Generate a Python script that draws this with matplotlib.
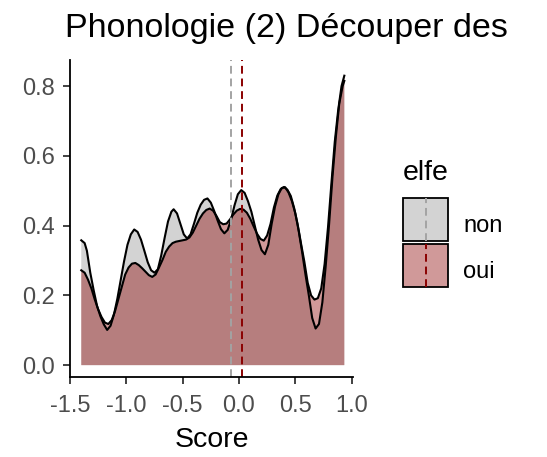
import matplotlib
matplotlib.use("Agg")
import matplotlib.pyplot as plt
from matplotlib.patches import Rectangle
from matplotlib.lines import Line2D

plt.rcParams['font.family'] = ['Liberation Sans', 'DejaVu Sans']

# density curves
non_x = [-1.40, -1.37, -1.35, -1.32, -1.29, -1.26, -1.23, -1.20, -1.17, -1.14, -1.11, -1.08,
         -1.05, -1.02, -0.99, -0.96, -0.93, -0.90, -0.87, -0.84, -0.81, -0.78, -0.75, -0.72,
         -0.69, -0.66, -0.63, -0.60, -0.58, -0.55, -0.52, -0.49, -0.46, -0.43, -0.40, -0.37,
         -0.34, -0.31, -0.28, -0.25, -0.22, -0.19, -0.16, -0.13, -0.10, -0.07, -0.04, -0.01,
         0.02, 0.05, 0.08, 0.11, 0.14, 0.17, 0.20, 0.23, 0.26, 0.29, 0.32, 0.35, 0.38, 0.41,
         0.44, 0.47, 0.50, 0.53, 0.56, 0.59, 0.62, 0.65, 0.68, 0.71, 0.74, 0.77, 0.80, 0.83,
         0.86, 0.89, 0.92, 0.935]
non_y = [0.358, 0.350, 0.328, 0.265, 0.215, 0.170, 0.140, 0.117, 0.101, 0.113, 0.145, 0.190,
         0.244, 0.298, 0.345, 0.375, 0.389, 0.382, 0.360, 0.328, 0.295, 0.272, 0.265, 0.275,
         0.315, 0.365, 0.412, 0.440, 0.447, 0.435, 0.405, 0.375, 0.363, 0.375, 0.405, 0.437,
         0.460, 0.474, 0.478, 0.466, 0.442, 0.415, 0.390, 0.378, 0.388, 0.418, 0.458, 0.490,
         0.502, 0.494, 0.470, 0.440, 0.400, 0.360, 0.330, 0.318, 0.345, 0.405, 0.455, 0.490,
         0.508, 0.510, 0.495, 0.470, 0.435, 0.385, 0.325, 0.260, 0.200, 0.135, 0.105, 0.118,
         0.180, 0.285, 0.405, 0.540, 0.655, 0.750, 0.800, 0.815]

oui_x = [-1.40, -1.37, -1.34, -1.31, -1.28, -1.25, -1.22, -1.19, -1.16, -1.13, -1.10, -1.07,
         -1.04, -1.01, -0.98, -0.95, -0.92, -0.89, -0.86, -0.83, -0.80, -0.77, -0.74, -0.71,
         -0.68, -0.65, -0.62, -0.59, -0.56, -0.53, -0.50, -0.47, -0.44, -0.41, -0.38, -0.35,
         -0.32, -0.29, -0.26, -0.23, -0.20, -0.17, -0.14, -0.11, -0.08, -0.05, -0.02, 0.01,
         0.04, 0.07, 0.10, 0.13, 0.16, 0.19, 0.22, 0.25, 0.28, 0.31, 0.34, 0.37, 0.40, 0.43,
         0.46, 0.49, 0.52, 0.55, 0.58, 0.61, 0.64, 0.67, 0.70, 0.73, 0.76, 0.79, 0.82, 0.85,
         0.88, 0.91, 0.935]
oui_y = [0.272, 0.265, 0.245, 0.220, 0.188, 0.160, 0.138, 0.122, 0.118, 0.129, 0.155, 0.190,
         0.225, 0.260, 0.280, 0.291, 0.293, 0.287, 0.278, 0.268, 0.258, 0.253, 0.260, 0.280,
         0.301, 0.325, 0.340, 0.350, 0.354, 0.356, 0.358, 0.360, 0.366, 0.380, 0.400, 0.420,
         0.435, 0.445, 0.449, 0.443, 0.428, 0.410, 0.404, 0.406, 0.418, 0.432, 0.443, 0.448,
         0.446, 0.437, 0.420, 0.398, 0.377, 0.362, 0.357, 0.372, 0.405, 0.452, 0.486, 0.505,
         0.511, 0.503, 0.485, 0.450, 0.405, 0.350, 0.297, 0.236, 0.200, 0.188, 0.192, 0.220,
         0.290, 0.395, 0.520, 0.640, 0.730, 0.800, 0.830]

means = {'non': -0.067, 'oui': 0.024}
groups = ['non', 'oui']
fills = {'non': '#d3d3d3', 'oui': (0.545, 0.0, 0.0, 0.4)}
vline_cols = {'non': '#a3a3a3', 'oui': '#8b0000'}

x_ticks = [-1.5, -1.0, -0.5, 0.0, 0.5, 1.0]
y_ticks = [0.0, 0.2, 0.4, 0.6, 0.8]

W, H = 547, 457
fig = plt.figure(figsize=(W / 100, H / 100), dpi=100)
ax = fig.add_axes([70 / W, 1 - 377 / H, 283 / W, 317 / H])

curves = {'non': (non_x, non_y), 'oui': (oui_x, oui_y)}
for g in groups:
    xs, ys = curves[g]
    ax.fill_between(xs, 0, ys, facecolor=fills[g], edgecolor='none')
    ax.plot(xs, ys, color='black', lw=1.5)
for g in groups:
    ax.axvline(means[g], color=vline_cols[g], lw=1.4, ls=(0, (4, 2.5)))

ax.set_xlim(-1.492, 1.012)
ax.set_ylim(-0.034, 0.875)
ax.set_xticks(x_ticks)
ax.set_xticklabels([f'{t:.1f}' for t in x_ticks])
ax.set_yticks(y_ticks)
ax.set_yticklabels([f'{t:.1f}' for t in y_ticks])
for s in ['top', 'right']:
    ax.spines[s].set_visible(False)
for s in ['left', 'bottom']:
    ax.spines[s].set_linewidth(1.3)
ax.tick_params(axis='both', length=5, width=1.3, color='#333333',
               labelcolor='#4d4d4d', labelsize=17)
ax.tick_params(axis='x', pad=8)
ax.tick_params(axis='y', pad=6)
ax.set_xlabel('Score', fontsize=20.5)
ax.xaxis.set_label_coords(0.5, -0.221)
ax.xaxis.label.set_va('baseline')

fig.text(65 / W, 1 - 37 / H, 'Phonologie (2) Découper des', fontsize=24.5,
         ha='left', va='baseline')

# legend
fig.text(403 / W, 1 - 180 / H, 'elfe', fontsize=20.5, ha='left', va='baseline')
key_tops = {'non': 198, 'oui': 244}
for g in groups:
    top = key_tops[g]
    fig.add_artist(Rectangle((403 / W, 1 - (top + 43) / H), 45 / W, 43 / H,
                             facecolor=fills[g], edgecolor='black', lw=1.3,
                             transform=fig.transFigure))
    fig.add_artist(Line2D([425.5 / W, 425.5 / W], [1 - (top + 43) / H, 1 - top / H],
                          color=vline_cols[g], lw=1.4, ls=(0, (4, 2.5)),
                          transform=fig.transFigure))
    fig.text(463 / W, 1 - (top + 34) / H, g, fontsize=17, ha='left', va='baseline')

fig.savefig('out.png', dpi=100)
